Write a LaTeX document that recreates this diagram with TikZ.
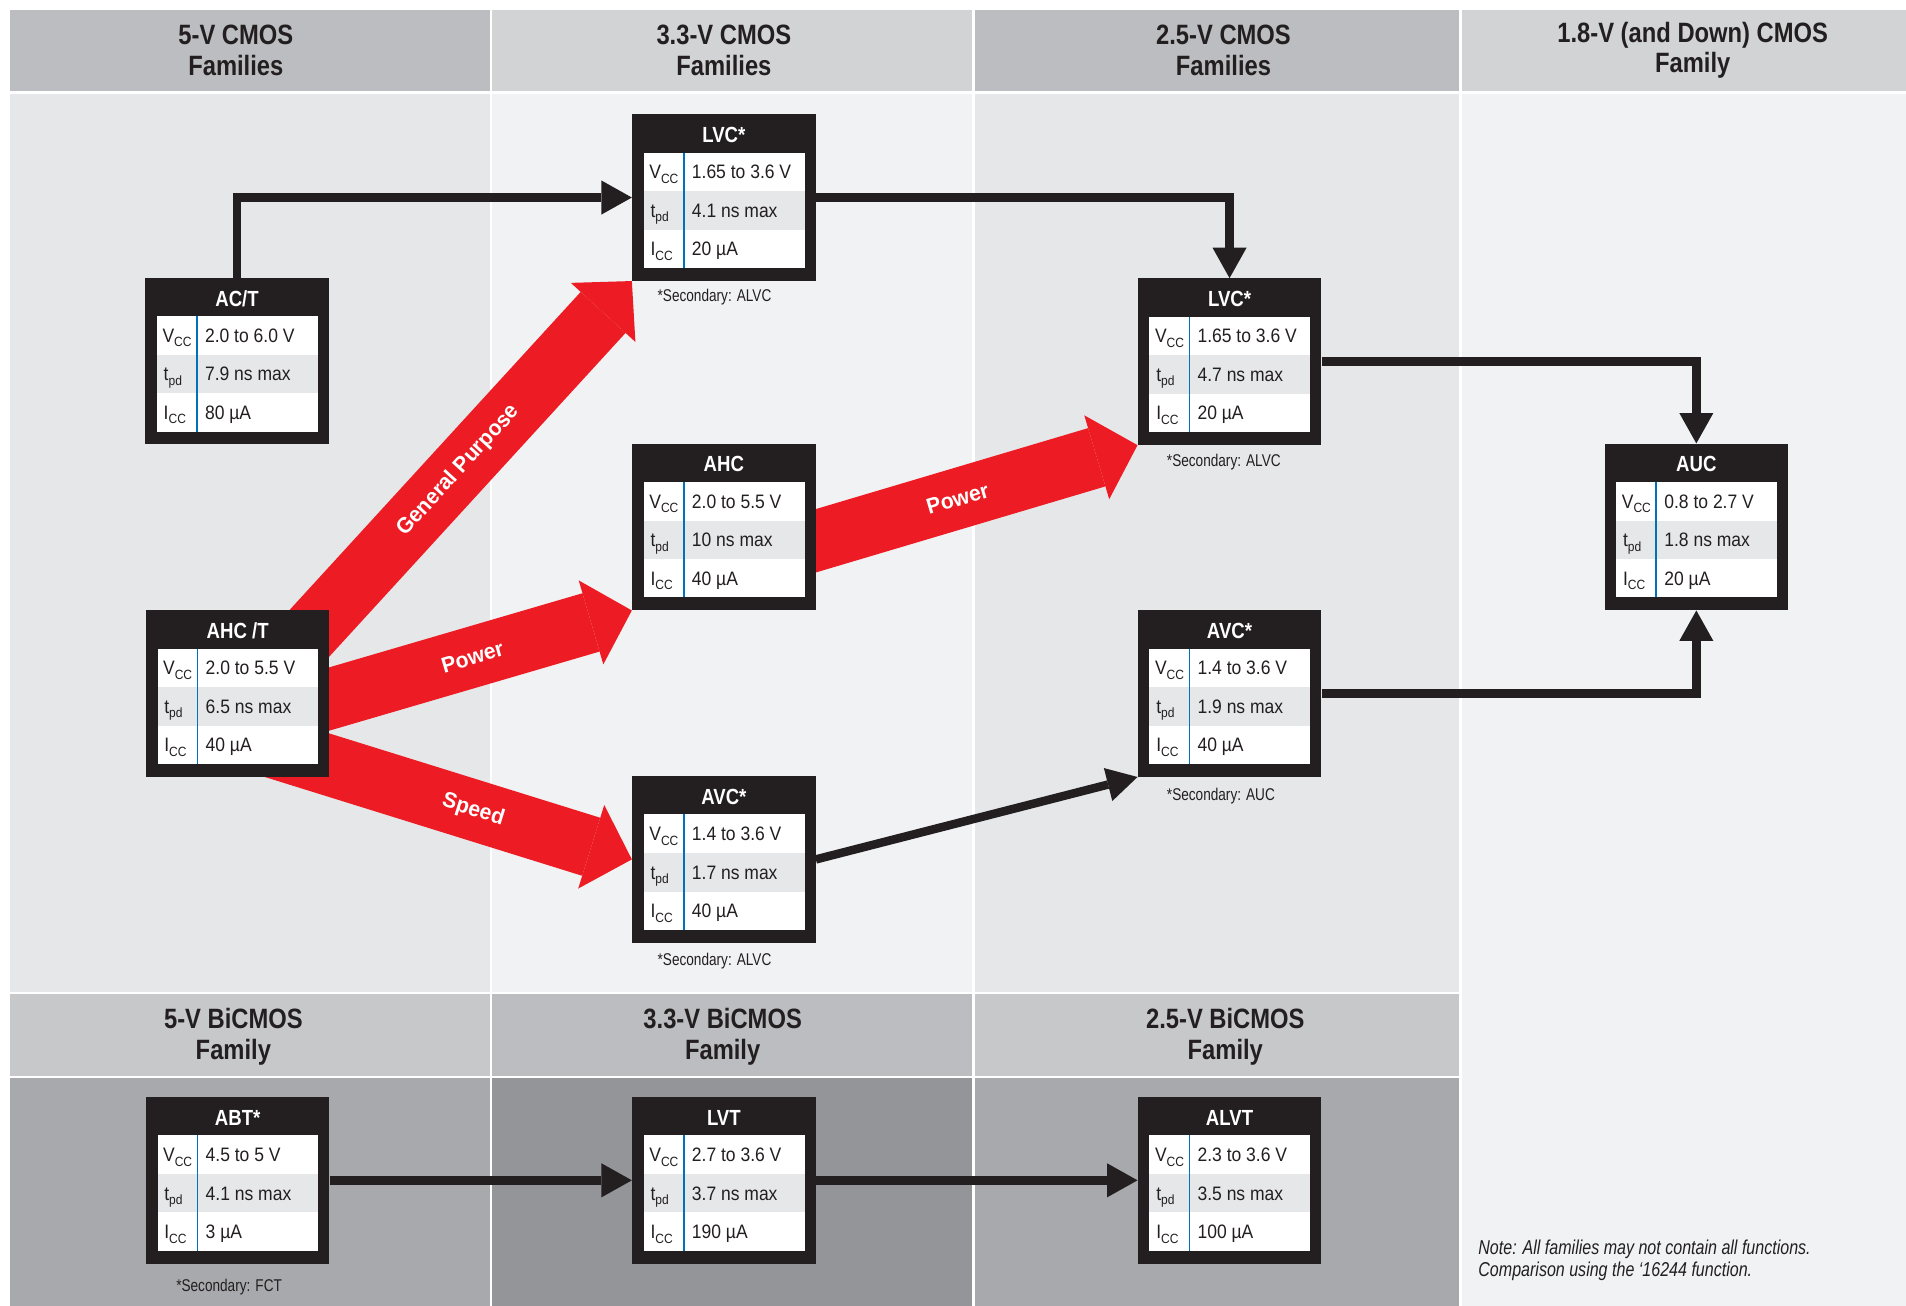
\documentclass[tikz,border=0pt]{standalone}
\usepackage{fontspec}
\setmainfont{Liberation Sans}
\newfontfamily\hfont{Liberation Sans}[FakeStretch=0.85]
\newfontfamily\tfont{Liberation Sans}[FakeStretch=0.9]
\newfontfamily\sfont{Liberation Sans}[FakeStretch=0.8]
\newfontfamily\rfont{Liberation Sans}[FakeStretch=0.97]
\usetikzlibrary{arrows.meta,calc}
\definecolor{inkblack}{HTML}{231F20}
\definecolor{hdrdark}{HTML}{BBBDC0}
\definecolor{hdrlight}{HTML}{D1D3D4}
\definecolor{maindark}{HTML}{E6E7E9}
\definecolor{mainlight}{HTML}{F1F2F4}
\definecolor{bhdrlight}{HTML}{C7C8CA}
\definecolor{bhdrdark}{HTML}{BBBDC0}
\definecolor{botlight}{HTML}{A7A9AC}
\definecolor{botdark}{HTML}{939598}
\definecolor{rowgray}{HTML}{E6E7E8}
\definecolor{divblue}{HTML}{0072BC}
\definecolor{arrowred}{HTML}{ED1C24}
\pgfdeclarelayer{panel}
\pgfdeclarelayer{redlayer}
\pgfsetlayers{panel,redlayer,main}
\newcommand\subs[1]{\raisebox{-3.8pt}{\fontsize{11}{11}\selectfont #1}}
\tikzset{
  famouter/.style={rectangle, fill=inkblack, minimum width=151pt, minimum height=137pt, inner sep=0pt},
  famtitle/.style={text=white, inner sep=0pt, font=\hfont\bfseries\fontsize{18}{18}\selectfont},
  famlab/.style={anchor=base west, inner sep=0pt, text=inkblack, font=\tfont\fontsize{16}{16}\selectfont},
  famval/.style={anchor=base west, inner sep=0pt, text=inkblack, font=\tfont\fontsize{16}{16}\selectfont},
  divider/.style={draw=divblue, line width=1.5pt},
  secnote/.style={anchor=west, inner sep=0pt, text=inkblack, font=\sfont\fontsize{14}{14}\selectfont},
  hdrtext/.style={align=center, inner sep=0pt, text=inkblack, font=\hfont\bfseries\fontsize{23}{25}\selectfont},
  conn/.style={draw=inkblack, line width=7pt, -{Triangle[width=28pt,length=25pt,line width=0pt]}},
  redarrow/.style={draw=arrowred, line width=50pt, -{Triangle[width=72pt,length=35pt,line width=0pt]}},
  redlabel/.style={text=white, inner sep=0pt, sloped, font=\rfont\bfseries\fontsize{18}{18}\selectfont},
  notetext/.style={align=left, anchor=west, inner sep=0pt, text=inkblack, font=\sfont\itshape\fontsize{16.5}{18}\selectfont}
}
\newcommand\fambox[7]{%
  \begin{scope}[shift={(#2,#3)}]
    \node[famouter] (#1) at (75.5,68.5) {};
    \fill[white] (9.6,31.5) rectangle (141.9,126.5);
    \fill[rowgray] (9.6,63.2) rectangle (141.9,94.9);
    \draw[divider] (42.5,31.5) -- (42.5,126.5);
    \node[famtitle] (#1-title) at (75.5,17) {#4};
    \node[famlab] (#1-l1) at (14,53) {V\subs{CC}};
    \node[famlab] (#1-l2) at (15,84.7) {t\subs{pd}};
    \node[famlab] (#1-l3) at (15,116.4) {I\subs{CC}};
    \node[famval] (#1-v1) at (49,53) {#5};
    \node[famval] (#1-v2) at (49,84.7) {#6};
    \node[famval] (#1-v3) at (49,116.4) {#7};
  \end{scope}}
\begin{document}
\begin{tikzpicture}[x=1pt,y=-1pt]
\useasboundingbox (0,0) rectangle (1568,1074);
\begin{pgfonlayer}{panel}
\fill[white] (0,0) rectangle (1568,1074);
\fill[hdrdark] (8,8) rectangle (403,75);
\fill[hdrlight] (405,8) rectangle (800,75);
\fill[hdrdark] (802,8) rectangle (1200,75);
\fill[hdrlight] (1203,8) rectangle (1568,75);
\fill[maindark] (8,77) rectangle (403,816);
\fill[mainlight] (405,77) rectangle (800,816);
\fill[maindark] (802,77) rectangle (1200,816);
\fill[mainlight] (1203,77) rectangle (1568,1074);
\fill[bhdrlight] (8,818) rectangle (403,885);
\fill[bhdrdark] (405,818) rectangle (800,885);
\fill[bhdrlight] (802,818) rectangle (1200,885);
\fill[botlight] (8,887) rectangle (403,1074);
\fill[botdark] (405,887) rectangle (800,1074);
\fill[botlight] (802,887) rectangle (1200,1074);
\end{pgfonlayer}

% headers
\node[hdrtext] (h1) at (194,41.5) {5-V CMOS\\Families};
\node[hdrtext] (h2) at (595.5,41.5) {3.3-V CMOS\\Families};
\node[hdrtext] (h3) at (1006.5,41.5) {2.5-V CMOS\\Families};
\node[hdrtext] (h4) at (1392.5,41.5) {1.8-V (and Down) CMOS\\Family};
\node[hdrtext] (b1) at (192,853) {5-V BiCMOS\\Family};
\node[hdrtext] (b2) at (594.5,853) {3.3-V BiCMOS\\Family};
\node[hdrtext] (b3) at (1008,853) {2.5-V BiCMOS\\Family};

% family boxes
\fambox{act}{119.5}{228.5}{AC/T}{2.0 to 6.0 V}{7.9 ns max}{80 µA}
\fambox{lvca}{520}{94}{LVC*}{1.65 to 3.6 V}{4.1 ns max}{20 µA}
\fambox{ahc}{520}{365}{AHC}{2.0 to 5.5 V}{10 ns max}{40 µA}
\fambox{ahct}{120}{502}{AHC /T}{2.0 to 5.5 V}{6.5 ns max}{40 µA}
\fambox{avca}{520}{638.5}{AVC*}{1.4 to 3.6 V}{1.7 ns max}{40 µA}
\fambox{lvcb}{936}{229}{LVC*}{1.65 to 3.6 V}{4.7 ns max}{20 µA}
\fambox{avcb}{936}{502}{AVC*}{1.4 to 3.6 V}{1.9 ns max}{40 µA}
\fambox{auc}{1320}{365}{AUC}{0.8 to 2.7 V}{1.8 ns max}{20 µA}
\fambox{abt}{120}{902.5}{ABT*}{4.5 to 5 V}{4.1 ns max}{3 µA}
\fambox{lvt}{520}{902.5}{LVT}{2.7 to 3.6 V}{3.7 ns max}{190 µA}
\fambox{alvt}{936}{902.5}{ALVT}{2.3 to 3.6 V}{3.5 ns max}{100 µA}

% secondary notes
\node[secnote] (n-lvca) at ($(lvca.south west)+(21,13)$) {*Secondary: ALVC};
\node[secnote] (n-lvcb) at ($(lvcb.south west)+(24,14)$) {*Secondary: ALVC};
\node[secnote] (n-avcb) at ($(avcb.south west)+(24,16)$) {*Secondary: AUC};
\node[secnote] (n-avca) at ($(avca.south west)+(21,15)$) {*Secondary: ALVC};
\node[secnote] (n-abt) at ($(abt.south west)+(25,19)$) {*Secondary: FCT};

% red block arrows
\coordinate (gp-s) at ($(ahct.north west)+(114.7,41.1)$);
\coordinate (pw1-s) at ($(ahct.north west)+(115,83.8)$);
\coordinate (sp-s) at ($(ahct.north west)+(96.4,110.7)$);
\coordinate (pw2-s) at ($(ahc.north west)+(120,89.4)$);
\begin{pgfonlayer}{redlayer}
\draw[redarrow] (gp-s) -- node[redlabel, pos=0.5] (gp-lab) {General Purpose} (lvca.south west);
\draw[redarrow] (pw1-s) -- node[redlabel, pos=0.54] (pw1-lab) {Power} (ahc.south west);
\draw[redarrow] (sp-s) -- node[redlabel, pos=0.57] (sp-lab) {Speed} (avca.west);
\draw[redarrow] (pw2-s) -- node[redlabel, pos=0.5] (pw2-lab) {Power} (lvcb.south west);
\end{pgfonlayer}

% black connectors
\draw[conn] (act.north) |- (lvca.west);
\draw[conn] (lvca.east) -| (lvcb.north);
\draw[conn] (lvcb.east) -| (auc.north);
\draw[conn] (avcb.east) -| (auc.south);
\draw[conn] (avca.east) -- (avcb.south west);
\draw[conn] (abt.east) -- (lvt.west);
\draw[conn] (lvt.east) -- (alvt.west);

% note
\node[notetext] (note) at (1216,1037) {Note: All families may not contain all functions.\\Comparison using the ‘16244 function.};
\end{tikzpicture}
\end{document}
